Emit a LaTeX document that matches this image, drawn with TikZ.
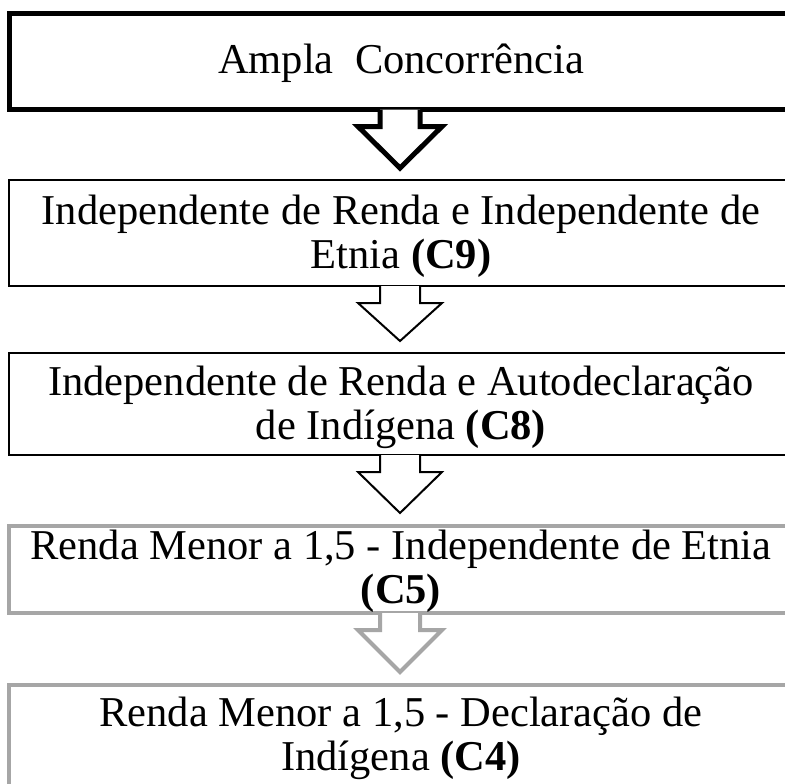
\documentclass[tikz,border=0pt]{standalone}
\usepackage{fontspec}
\setmainfont{Liberation Serif}
\usetikzlibrary{calc}
\definecolor{cinza}{RGB}{166,166,166}
\newcommand{\seta}[4]{%
  \coordinate (s) at ($(#1.south)+(0,-#4)$);
  \coordinate (t) at ($(#2.north)+(0,-11)$);
  \draw[#3, fill=white] ($(s)+(-20,0)$) -- ($(s)+(-20,17)$) -- ($(s)+(-42,17)$) -- (t)
    -- ($(s)+(42,17)$) -- ($(s)+(20,17)$) -- ($(s)+(20,0)$);
}

\begin{document}
\begin{tikzpicture}[x=0.5pt, y=-0.5pt, inner sep=0pt,
	caixa/.style={draw, rectangle, minimum width=391pt},
	texto/.style={align=center, anchor=base, font=\fontsize{21.25}{22}\selectfont}]
		\useasboundingbox (0,0) rectangle (785,783);
		\clip (0,0) rectangle (785,783);
		\node[caixa, line width=2.5pt, minimum height=48pt] (ampla) at (400,61.5) {};
		\node[caixa, line width=1pt, minimum height=53pt] (c9) at (400,233) {};
		\node[caixa, line width=1pt, minimum height=51pt] (c8) at (400,404) {};
		\node[caixa, draw=cinza, line width=2pt, minimum height=43.5pt] (c5) at (400,569.5) {};
		\node[caixa, draw=cinza, line width=2pt, minimum height=55pt] (c4) at (400,740) {};

		\seta{ampla}{c9}{line width=2.5pt}{2.5}
		\seta{c9}{c8}{line width=1pt}{1}
		\seta{c8}{c5}{line width=1pt}{1}
		\seta{c5}{c4}{draw=cinza, line width=2pt}{2}

		\node[texto] (amplaT) at (401,73) {Ampla\ \ Concorrência};
		\node[texto] (c9T) at (401,268) {Independente de Renda e Independente de\\Etnia \textbf{(C9)}};
		\node[texto] (c8T) at (401,439) {Independente de Renda e Autodeclaração\\de Indígena \textbf{(C8)}};
		\node[texto] (c5T) at (401,603) {Renda Menor a 1,5 - Independente de Etnia\\\textbf{(C5)}};
		\node[texto] (c4T) at (401,770) {Renda Menor a 1,5 - Declaração de\\Indígena \textbf{(C4)}};
	\end{tikzpicture}
\end{document}
